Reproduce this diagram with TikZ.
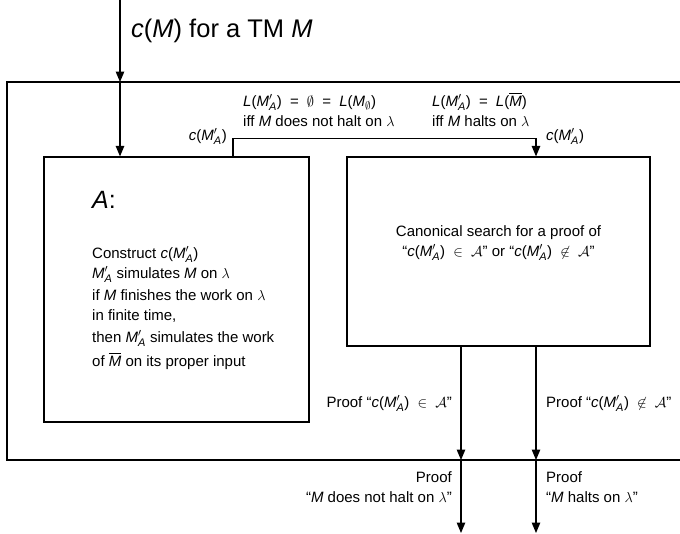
\documentclass[tikz,border=0pt]{standalone}
\usepackage{amsmath}
\usepackage{fontspec}
\setmainfont{Liberation Sans}
\usetikzlibrary{arrows.meta}
\DeclareMathSizes{15}{15.5}{11}{8}
\DeclareMathSizes{25.5}{26}{18}{13}
\newcommand\MA{\textit{M}$'_{\textit{A}}$}
\newcommand\Mbar{$\overline{\textit{M}}$}
\newcommand\rel[1]{\ \hspace{4pt}#1\hspace{4pt}\ }
\newcommand\eq{\ \hspace{4pt}=\hspace{4pt}\ }
\begin{document}
\begin{tikzpicture}[x=1pt,y=-1pt,
  every node/.style={inner sep=0pt, font=\fontsize{15}{18}\selectfont},
  box/.style={draw, line width=1.2pt, rectangle},
  arr/.style={line width=1.2pt, -{Triangle[length=10.5pt,width=8.5pt]}},
  ln/.style={line width=1.2pt},
  lbl/.style={anchor=base west},
  lblr/.style={anchor=base east},
  lblc/.style={anchor=base},
  big/.style={font=\fontsize{25.5}{30}\selectfont}]

\useasboundingbox (0,0) rectangle (680,533);

% outer frame
\coordinate (otr) at (682,82);
\coordinate (otl) at (7,82);
\coordinate (obl) at (7,460);
\coordinate (obr) at (682,460);
\draw[ln] (otr) -- (otl) -- (obl) -- (obr);

% boxes
\node[box, minimum width=265pt, minimum height=265pt] (A) at (176.5,289.5) {};
\node[box, minimum width=303pt, minimum height=189pt] (B) at (498.5,251.5) {};

% input arrow
\coordinate (in) at (120,0);
\coordinate (o1) at (120,82);
\draw[arr] (in) -- (o1);
\draw[arr] (o1) -- (o1 |- A.north);

% A to B
\draw[arr] ([xshift=56.5pt]A.north) -- ++(0,-18) -| ([xshift=37.5pt]B.north);

% outputs
\coordinate (p1) at (461,460);
\coordinate (p2) at (536,460);
\coordinate (q1) at (461,533);
\coordinate (q2) at (536,533);
\draw[arr] ([xshift=-37.5pt]B.south) -- (p1);
\draw[arr] ([xshift=37.5pt]B.south) -- (p2);
\draw[arr] (p1) -- (q1);
\draw[arr] (p2) -- (q2);

% labels
\node[big, lbl] (title) at (131,37) {\textit{c}(\textit{M}) for a TM \textit{M}};

\node[lblr] (cl) at (227,140) {\textit{c}(\MA)};
\node[lbl] (cr) at (546,140) {\textit{c}(\MA)};

\node[lbl] (l1) at (243,106) {\textit{L}(\MA)\eq$\emptyset$\eq\textit{L}(\textit{M}$_{\emptyset}$)};
\node[lbl] (l2) at (243,126) {iff \textit{M} does not halt on $\lambda$};
\node[lbl] (r1) at (432,106) {\textit{L}(\MA)\eq\textit{L}(\Mbar)};
\node[lbl] (r2) at (432,126) {iff \textit{M} halts on $\lambda$};

% box A text
\node[font=\fontsize{25}{30}\selectfont, lbl] (At) at (92,208) {\textit{A}:};
\node[lbl] (a1) at (92,258) {Construct \textit{c}(\MA)};
\node[lbl] (a2) at (92,278) {\MA\ simulates \textit{M} on $\lambda$};
\node[lbl] (a3) at (92,300) {if \textit{M} finishes the work on $\lambda$};
\node[lbl] (a4) at (92,320) {in finite time,};
\node[lbl] (a5) at (92,342) {then \MA\ simulates the work};
\node[lbl] (a6) at (92,366) {of \Mbar\ on its proper input};

% box B text
\node[lblc] (b1) at (498.5,236) {Canonical search for a proof of};
\node[lblc] (b2) at (498.5,256) {“\textit{c}(\MA)\rel{$\in$}$\mathcal{A}$” or “\textit{c}(\MA)\rel{$\not\in$}$\mathcal{A}$”};

% output labels
\node[lblr] (pin) at (452,407) {Proof “\textit{c}(\MA)\rel{$\in$}$\mathcal{A}$”};
\node[lbl] (pout) at (546,407) {Proof “\textit{c}(\MA)\rel{$\not\in$}$\mathcal{A}$”};
\node[lblr] (h1) at (452,482) {Proof};
\node[lblr] (h2) at (452,502) {“\textit{M} does not halt on $\lambda$”};
\node[lbl] (g1) at (546,482) {Proof};
\node[lbl] (g2) at (546,502) {“\textit{M} halts on $\lambda$”};
\end{tikzpicture}
\end{document}
